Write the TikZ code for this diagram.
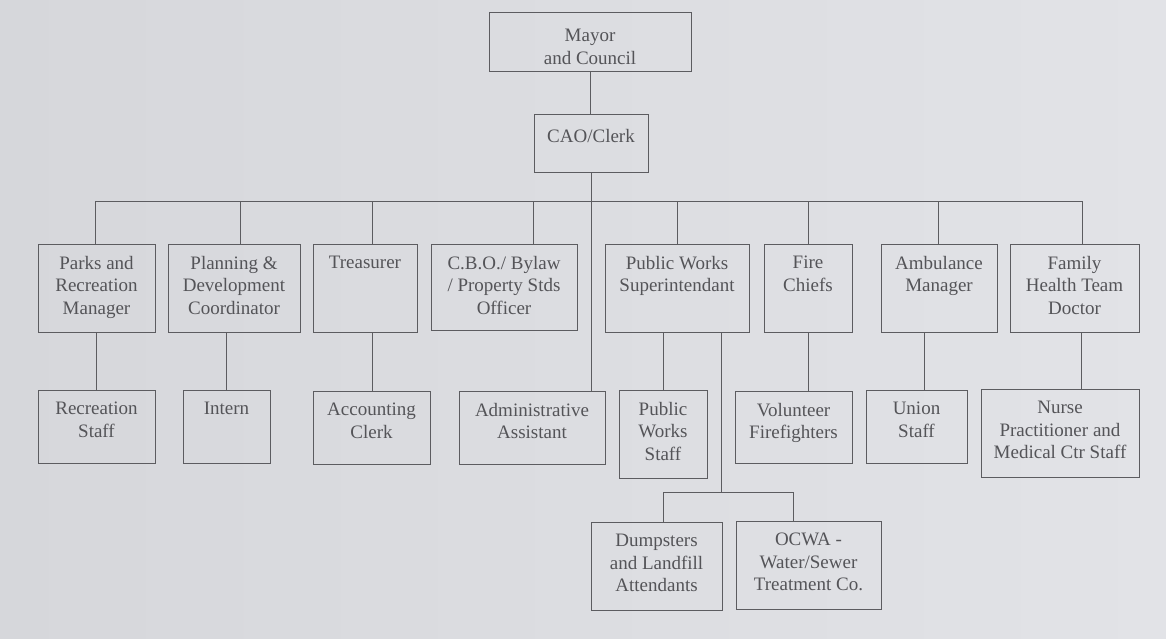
\documentclass[tikz,border=0pt]{standalone}
\usepackage{fontspec}
\setmainfont{Liberation Serif}
\definecolor{bgL}{RGB}{214,215,219}
\definecolor{bgR}{RGB}{226,227,231}
\definecolor{ln}{RGB}{92,92,96}
\definecolor{tx}{RGB}{84,84,88}
\tikzset{
  box/.style={draw=ln, line width=1pt, rectangle, inner sep=0pt, outer sep=0pt},
  txt/.style={text=tx, font=\fontsize{19}{22.5}\selectfont, align=center, inner sep=0pt, anchor=north},
  conn/.style={draw=ln, line width=1pt}
}
\newcommand\obox[7][12]{%
  \node[box, anchor=north west, minimum width={#5-#3}, minimum height={#6-#4}] (#2) at (#3,#4) {};
  \node[txt] (#2-t) at ([yshift=-#1pt]#2.north) {#7};}
\begin{document}
\begin{tikzpicture}[x=1pt,y=-1pt]
\useasboundingbox (0,0) rectangle (1166,639);
\shade[left color=bgL, right color=bgR] (0,0) rectangle (1166,639);
% top
\obox[16]{mayor}{489}{13}{691}{72}{Mayor\\and Council}
\obox[14]{cao}{534}{115}{648}{173}{CAO/Clerk}
% level 2
\obox{parks}{38}{244}{155}{332}{Parks and\\Recreation\\Manager}
\obox{plan}{168}{244}{300}{332}{Planning \&\\Development\\Coordinator}
\obox{treas}{313}{244}{417}{332}{Treasurer}
\obox{cbo}{431}{244}{577}{330}{C.B.O./ Bylaw\\/ Property Stds\\Officer}
\obox{pws}{605}{244}{749}{332}{Public Works\\Superintendant}
\obox{fire}{764}{244}{852}{332}{Fire\\Chiefs}
\obox{amb}{881}{244}{997}{332}{Ambulance\\Manager}
\obox{fam}{1010}{244}{1139}{332}{Family\\Health Team\\Doctor}
% level 3
\obox{rec}{38}{390}{155}{463}{Recreation\\Staff}
\obox{intern}{183}{390}{270}{463}{Intern}
\obox{acct}{313}{391}{430}{464}{Accounting\\Clerk}
\obox{admin}{459}{391}{605}{464}{Administrative\\Assistant}
\obox{pwstaff}{619}{390}{707}{478}{Public\\Works\\Staff}
\obox{vol}{735}{391}{852}{463}{Volunteer\\Firefighters}
\obox{union}{866}{390}{967}{463}{Union\\Staff}
\obox{nurse}{981}{389}{1139}{477}{Nurse\\Practitioner and\\Medical Ctr Staff}
% level 4
\obox{dump}{591}{522}{722}{610}{Dumpsters\\and Landfill\\Attendants}
\obox{ocwa}{736}{521}{881}{609}{OCWA -\\Water/Sewer\\Treatment Co.}
% connectors
\draw[conn] (mayor.south) -- (mayor.south |- cao.north);
\draw[conn] (cao.south) -- (cao.south |- admin.north);
\coordinate (d1) at (95,201);
\coordinate (d2) at (240,201);
\coordinate (d3) at (372,201);
\coordinate (d4) at (533,201);
\coordinate (d5) at (677,201);
\coordinate (d6) at (808,201);
\coordinate (d7) at (938,201);
\coordinate (d8) at (1082,201);
\draw[conn] (d1) -- (d8);
\draw[conn] (d1) -- (d1 |- parks.north);
\draw[conn] (d2) -- (d2 |- plan.north);
\draw[conn] (d3) -- (d3 |- treas.north);
\draw[conn] (d4) -- (d4 |- cbo.north);
\draw[conn] (d5) -- (d5 |- pws.north);
\draw[conn] (d6) -- (d6 |- fire.north);
\draw[conn] (d7) -- (d7 |- amb.north);
\draw[conn] (d8) -- (d8 |- fam.north);
% level 2 to level 3
\coordinate (e1) at (96,0);
\coordinate (e2) at (226,0);
\coordinate (e3) at (372,0);
\coordinate (e5) at (663,0);
\coordinate (e6) at (808,0);
\coordinate (e7) at (924,0);
\coordinate (e8) at (1081,0);
\draw[conn] (e1 |- parks.south) -- (e1 |- rec.north);
\draw[conn] (e2 |- plan.south) -- (e2 |- intern.north);
\draw[conn] (e3 |- treas.south) -- (e3 |- acct.north);
\draw[conn] (e5 |- pws.south) -- (e5 |- pwstaff.north);
\draw[conn] (e6 |- fire.south) -- (e6 |- vol.north);
\draw[conn] (e7 |- amb.south) -- (e7 |- union.north);
\draw[conn] (e8 |- fam.south) -- (e8 |- nurse.north);
% public works lower branch
\coordinate (pwd) at (721,492);
\coordinate (dl) at (663,492);
\coordinate (dr) at (793,492);
\draw[conn] (pwd |- pws.south) -- (pwd);
\draw[conn] (dl |- dump.north) -- (dl) -- (dr) -- (dr |- ocwa.north);
\end{tikzpicture}
\end{document}
